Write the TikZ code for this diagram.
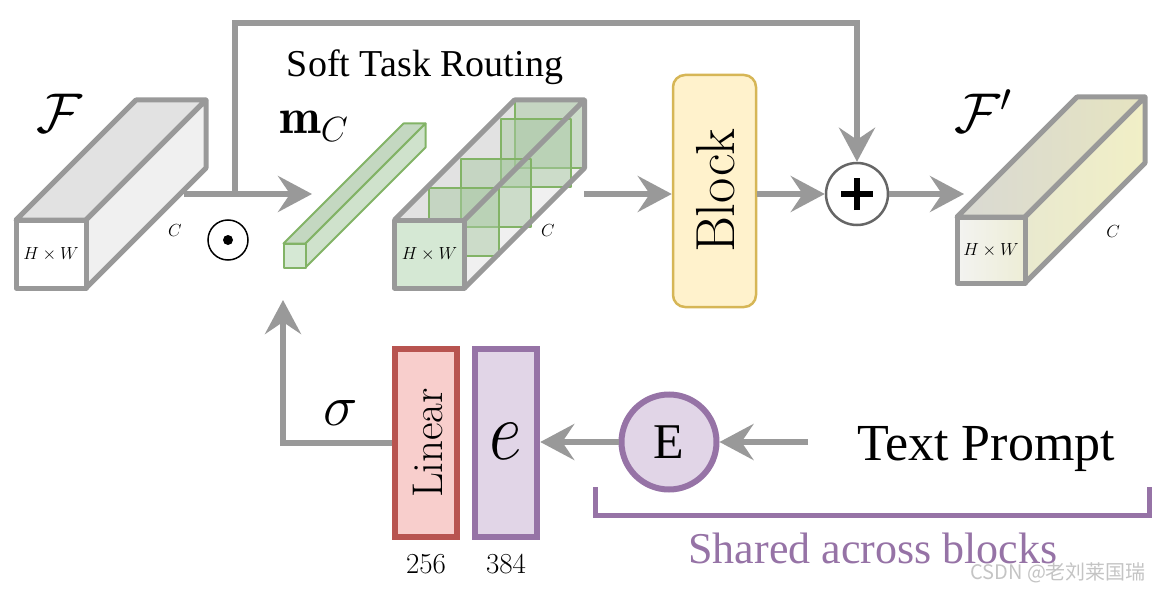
\RequirePackage{fix-cm}
\documentclass[tikz,border=0pt]{standalone}
\usepackage{fontspec}
\newfontfamily\tnr{Liberation Serif}
\newfontfamily\cjkf{Noto Sans CJK SC}
\usetikzlibrary{arrows.meta}
\definecolor{ar}{HTML}{999999}
\definecolor{gstroke}{HTML}{82B366}
\definecolor{gfill}{HTML}{D5E8D4}
\definecolor{gtop}{HTML}{C4D8C1}
\definecolor{gside}{HTML}{CFE2CC}
\definecolor{gsq}{HTML}{A9C9A4}
\definecolor{ftop}{HTML}{E2E2E2}
\definecolor{fside}{HTML}{F0F0F0}
\definecolor{yfill}{HTML}{FFF2CC}
\definecolor{ystroke}{HTML}{D6B656}
\definecolor{rfill}{HTML}{F8CECC}
\definecolor{rstroke}{HTML}{B85450}
\definecolor{pfill}{HTML}{E1D5E7}
\definecolor{pstroke}{HTML}{9673A6}
\definecolor{wm}{HTML}{C4C4C4}
\definecolor{pltop}{HTML}{D9D9D3}
\definecolor{prtop}{HTML}{E6E4C0}
\definecolor{plside}{HTML}{E9E9CF}
\definecolor{prside}{HTML}{F1EFC6}
\definecolor{plfront}{HTML}{F3F3F1}
\definecolor{prfront}{HTML}{EDEDD6}
\begin{document}
\begin{tikzpicture}[x=1pt,y=-1pt,
  arr/.style={draw=ar,line width=6pt,-{Stealth[length=34pt,width=36pt,inset=12pt]}},
  gline/.style={draw=ar,line width=5pt,line join=round},
  greenline/.style={draw=gstroke,line width=2pt,line join=round},
  hold/.style={rectangle,inner sep=0pt,outer sep=0pt},
  small/.style={inner sep=0pt,font=\fontsize{17.5}{20}\selectfont},
  tall/.style={rectangle,inner sep=0pt,line width=6.5pt,minimum width=62pt,minimum height=188pt}
]
\useasboundingbox (0,0) rectangle (1172,591);

% ---------- F box ----------
\node[hold,minimum width=70pt,minimum height=68pt] (F) at (51,254) {};
\path[gline,fill=ftop] (F.north west) -- ++(120,-120) -- ([shift={(120,-120)}]F.north east) -- (F.north east) -- cycle;
\path[gline,fill=fside] (F.north east) -- ++(120,-120) -- ([shift={(120,-120)}]F.south east) -- (F.south east) -- cycle;
\path[gline,fill=white] (F.south west) rectangle (F.north east);
\node[small] (Fhw) at (F) {$H\times W$};
\node[small] (FC) at (175,231) {$C$};
\node[anchor=base west,inner sep=0pt,font=\fontsize{56}{62}\selectfont] (Flab) at (36,132) {$\mathcal{F}$};

% odot
\node[circle,draw,line width=1.5pt,minimum size=40pt,inner sep=0pt] (odot) at (228,240) {};
\fill (odot.center) circle (5pt);

% ---------- m_C bar ----------
\node[hold,minimum width=22pt,minimum height=24pt] (M) at (294.5,255.5) {};
\path[greenline,fill=gtop] (M.north west) -- ++(120,-120) -- ([shift={(120,-120)}]M.north east) -- (M.north east) -- cycle;
\path[greenline,fill=gside] (M.north east) -- ++(120,-120) -- ([shift={(120,-120)}]M.south east) -- (M.south east) -- cycle;
\path[greenline,fill=gfill] (M.south west) rectangle (M.north east);
\node[anchor=base west,inner sep=0pt,font=\fontsize{50}{56}\selectfont] (Mlab) at (279,134) {$\mathbf{m}_C$};

% ---------- routed feature box ----------
\node[hold,minimum width=70pt,minimum height=68pt] (G) at (429.5,254) {};
\fill[ftop] (G.north west) -- ++(120,-120) -- ([shift={(120,-120)}]G.north east) -- (G.north east) -- cycle;
\fill[fside] (G.north east) -- ++(120,-120) -- ([shift={(120,-120)}]G.south east) -- (G.south east) -- cycle;
\foreach \dx/\dy in {120/-120,106/-101,66/-61,34/-32}{
  \path[greenline,fill=gsq,fill opacity=0.5] ([shift={(\dx,\dy)}]G.south west) rectangle ([shift={(\dx,\dy)}]G.north east);
}
\path[gline,fill=gfill] (G.south west) rectangle (G.north east);
\draw[gline] (G.north west) -- ++(120,-120) -- ([shift={(120,-120)}]G.north east) -- (G.north east);
\draw[gline] ([shift={(120,-120)}]G.north east) -- ([shift={(120,-120)}]G.south east) -- (G.south east);
\node[small] (Ghw) at (G) {$H\times W$};
\node[small] (GC) at (548,231) {$C$};
\node[anchor=base,inner sep=0pt,font=\tnr\fontsize{38}{44}\selectfont] (str) at (425,77) {Soft Task Routing};

% ---------- Block ----------
\node[rectangle,rounded corners=12pt,draw=ystroke,fill=yfill,line width=2.5pt,minimum width=83pt,minimum height=232pt,inner sep=0pt] (block) at (714.5,191) {};
\node[rotate=90,inner sep=0pt,font=\fontsize{55}{60}\selectfont] (blocklab) at (716,191) {Block};

% ---------- plus ----------
\node[circle,draw=black!60,fill=white,line width=2.5pt,minimum size=62pt,inner sep=0pt] (plus) at (857,194) {};
\draw[line width=6pt] ([xshift=-16pt]plus.center) -- ([xshift=16pt]plus.center);
\draw[line width=6pt] ([yshift=-16pt]plus.center) -- ([yshift=16pt]plus.center);

% ---------- F' box ----------
\node[hold,minimum width=68pt,minimum height=66pt] (P) at (991,250) {};
\path[gline,left color=pltop,right color=prtop] (P.north west) -- ++(120,-120) -- ([shift={(120,-120)}]P.north east) -- (P.north east) -- cycle;
\path[gline,left color=plside,right color=prside] (P.north east) -- ++(120,-120) -- ([shift={(120,-120)}]P.south east) -- (P.south east) -- cycle;
\path[gline,left color=plfront,right color=prfront] (P.south west) rectangle (P.north east);
\node[small] (Phw) at (P) {$H\times W$};
\node[small] (PC) at (1113,232) {$C$};
\node[anchor=base west,inner sep=0pt,font=\fontsize{56}{62}\selectfont] (Plab) at (954,132) {$\mathcal{F}'$};

% ---------- main connectors ----------
\coordinate (Fout) at (184,194);
\coordinate (split) at (235,194);
\coordinate (Min) at (312,194);
\coordinate (Gout) at (584,194);
\coordinate (Pin) at (964,194);
\draw[arr] (Fout) -- (Min);
\draw[arr] (split) -- ++(0,-171) -| (plus);
\draw[arr] (Gout) -- (Gout -| block.west);
\draw[arr] (Gout -| block.east) -- (plus);
\draw[arr] (plus) -- (Pin);

% ---------- bottom ----------
\node[tall,draw=rstroke,fill=rfill] (lin) at (426,443) {};
\node[rotate=90,inner sep=0pt,font=\fontsize{43}{48}\selectfont] (linlab) at (428,443) {Linear};
\node[tall,draw=pstroke,fill=pfill] (ebox) at (506,443) {};
\node[inner sep=0pt,font=\fontsize{84}{92}\selectfont,xscale=0.85] (elab) at (506,441) {$e$};
\node[anchor=base,inner sep=0pt,font=\fontsize{29}{32}\selectfont] (n256) at (426,573) {256};
\node[anchor=base,inner sep=0pt,font=\fontsize{29}{32}\selectfont] (n384) at (506,573) {384};

\node[circle,draw=pstroke,fill=pfill,line width=6pt,minimum size=95pt,inner sep=0pt,font=\tnr\fontsize{50}{56}\selectfont] (E) at (669,442) {E};
\node[anchor=base,inner sep=0pt,font=\tnr\fontsize{52}{58}\selectfont] (tp) at (986,460) {Text Prompt};
\coordinate (tpin) at (808,442);
\draw[arr] (tpin) -- (E);
\draw[arr] (E) -- (E -| ebox.east);

\coordinate (sig) at (283,300);
\draw[arr] (lin.west) -| (sig);
\node[inner sep=0pt,font=\fontsize{58}{64}\selectfont] (siglab) at (341,413) {$\sigma$};

\draw[draw=pstroke,line width=5pt] (595,487) -- (595,515) -- (1149,515) -- (1149,487);
\node[anchor=base,inner sep=0pt,text=pstroke,font=\tnr\fontsize{44}{50}\selectfont] (shared) at (873,563) {Shared across blocks};

\node[anchor=west,inner sep=0pt,text=wm,font=\cjkf\fontsize{20}{22}\selectfont] (wmk) at (970,573) {CSDN @老刘莱国瑞};
\end{tikzpicture}
\end{document}
